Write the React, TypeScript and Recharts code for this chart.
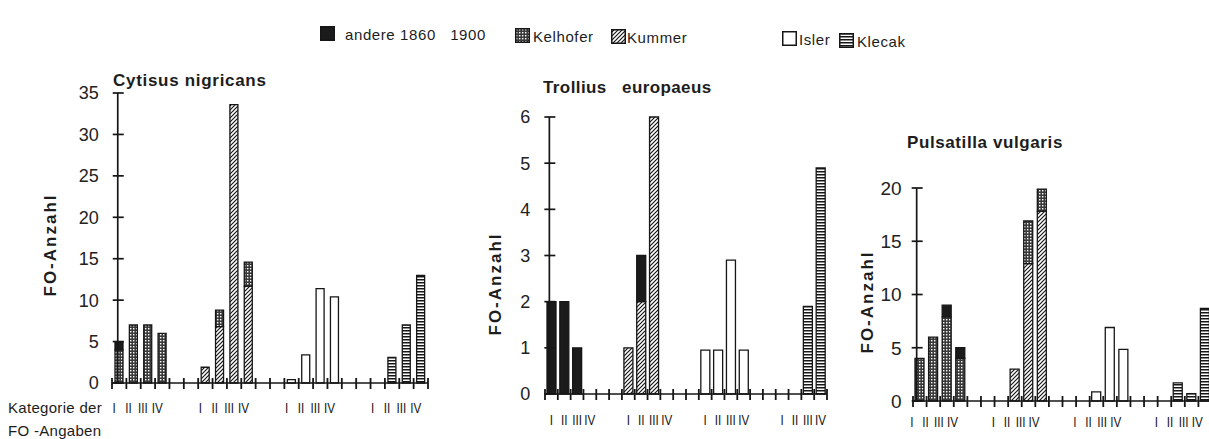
import React from 'react';
import { BarChart, Bar, XAxis, YAxis, ReferenceLine } from 'recharts';

// categories I..IV inside each author group (Kelhofer | Kummer | Isler | Klecak)
const categories = ['I', 'II', 'III', 'IV'];
const groups = ['Kelhofer', 'Kummer', 'Isler', 'Klecak'];

// Cytisus nigricans
const cytisusAndere = [1, 0, 0, 0, 0, 0, 0, 0, 0, 0, 0, 0, 0, 0, 0, 0];
const cytisusKelhofer = [4, 7, 7, 6, 0, 2, 0, 2.9, 0, 0, 0, 0, 0, 0, 0, 0];
const cytisusKummer = [0, 0, 0, 0, 1.9, 6.8, 33.6, 11.7, 0, 0, 0, 0, 0, 0, 0, 0];
const cytisusIsler = [0, 0, 0, 0, 0, 0, 0, 0, 0.4, 3.4, 11.4, 10.4, 0, 0, 0, 0];
const cytisusKlecak = [0, 0, 0, 0, 0, 0, 0, 0, 0, 0, 0, 0, 0, 3.1, 7, 13];

// Trollius europaeus
const trolliusAndere = [2, 2, 1, 0, 0, 1, 0, 0, 0, 0, 0, 0, 0, 0, 0, 0];
const trolliusKelhofer = [0, 0, 0, 0, 0, 0, 0, 0, 0, 0, 0, 0, 0, 0, 0, 0];
const trolliusKummer = [0, 0, 0, 0, 1, 2, 6, 0, 0, 0, 0, 0, 0, 0, 0, 0];
const trolliusIsler = [0, 0, 0, 0, 0, 0, 0, 0, 0.95, 0.95, 2.9, 0.95, 0, 0, 0, 0];
const trolliusKlecak = [0, 0, 0, 0, 0, 0, 0, 0, 0, 0, 0, 0, 0, 0, 1.9, 4.9];

// Pulsatilla vulgaris
const pulsatillaAndere = [0, 0, 1.1, 1, 0, 0, 0, 0, 0, 0, 0, 0, 0, 0, 0, 0];
const pulsatillaKelhofer = [4, 6, 7.9, 4, 0, 0, 4, 2.1, 0, 0, 0, 0, 0, 0, 0, 0];
const pulsatillaKummer = [0, 0, 0, 0, 0, 3, 12.9, 17.8, 0, 0, 0, 0, 0, 0, 0, 0];
const pulsatillaIsler = [0, 0, 0, 0, 0, 0, 0, 0, 0, 0.85, 6.9, 4.85, 0, 0, 0, 0];
const pulsatillaKlecak = [0, 0, 0, 0, 0, 0, 0, 0, 0, 0, 0, 0, 0, 1.7, 0.7, 8.7];

const cytisusTicks = [0, 5, 10, 15, 20, 25, 30, 35];
const trolliusTicks = [0, 1, 2, 3, 4, 5, 6];
const pulsatillaTicks = [0, 5, 10, 15, 20];

// stack order bottom -> top
const stackOrder = ['Kummer', 'Isler', 'Klecak', 'Kelhofer', 'andere'];
const fills: Record<string, string> = {
  andere: '#1b1b1b',
  Kelhofer: 'url(#pKelhoferFill)',
  Kummer: 'url(#pKummerFill)',
  Isler: '#ffffff',
  Klecak: 'url(#pKlecakFill)',
};

const SLOTS = 22; // 4 groups of 4 + 2 empty slots between groups
const slotTicks = Array.from({ length: SLOTS + 1 }, (_, i) => i);
const slotPos = (i: number) => Math.floor(i / 4) * 6 + (i % 4) + 0.5;
const romanTicks = Array.from({ length: 16 }, (_, i) => slotPos(i));

const buildRows = (s: Record<string, number[]>) =>
  Array.from({ length: 16 }, (_, i) => ({
    x: slotPos(i),
    cat: categories[i % 4],
    group: groups[Math.floor(i / 4)],
    andere: s.andere[i],
    Kelhofer: s.Kelhofer[i],
    Kummer: s.Kummer[i],
    Isler: s.Isler[i],
    Klecak: s.Klecak[i],
  }));

const font = '"Liberation Sans", Arial, Helvetica, sans-serif';
const ink = '#161616';
const TICK = 11;

const emptyTick = () => <g />;

const makeRomanTick = (dy: number, shift: number) => (props: any) => {
  const { x, y, payload } = props;
  const idx = romanTicks.indexOf(payload.value);
  return (
    <text transform={`translate(${x + shift},${y + dy}) scale(0.78,1)`} x={0} y={0}
      textAnchor="middle" dominantBaseline="central" fontSize={15} fontFamily={font} fill={ink}>
      {categories[idx % 4]}
    </text>
  );
};

const makeYTick = (axisPx: number, gap: number, size: number) => (props: any) => {
  const { x, y, payload } = props;
  const ax = x + TICK + axisPx;
  return (
    <text x={ax - gap} y={y} dy="0.36em" textAnchor="end" fontSize={size} fontFamily={font} fill="#222">
      {payload.value}
    </text>
  );
};

interface PanelProps {
  left: number;
  width: number;
  margin: { top: number; right: number; bottom: number; left: number };
  rows: any[];
  yMax: number;
  yTicks: number[];
  axisAt: number;
  labelGap: number;
  tickFont: number;
  romanDy: number;
  romanShift: number;
  barSize: number;
}

const Panel: React.FC<PanelProps> = (p) => {
  const plotW = p.width - p.margin.left - p.margin.right - 30;
  const axisPx = (p.axisAt / SLOTS) * plotW;
  return (
    <div style={{ position: 'absolute', left: p.left, top: 0 }}>
      <BarChart width={p.width} height={439} data={p.rows} margin={p.margin}>
        <XAxis xAxisId="main" type="number" dataKey="x" domain={[0, SLOTS]} ticks={slotTicks}
          interval={0} height={10} tickSize={TICK} tickMargin={0} tick={emptyTick}
          tickLine={{ stroke: ink, strokeWidth: 1.8, transform: 'translate(0,-5)' }}
          axisLine={{ stroke: ink, strokeWidth: 1.7 }} allowDataOverflow />
        <XAxis xAxisId="rom" type="number" dataKey="x" domain={[0, SLOTS]} ticks={romanTicks}
          interval={0} height={24} tickSize={0} tickMargin={0} axisLine={false} tickLine={false}
          tick={makeRomanTick(p.romanDy, p.romanShift)} allowDataOverflow />
        <YAxis type="number" domain={[0, p.yMax]} ticks={p.yTicks} interval={0} width={30}
          axisLine={false} tickSize={TICK} tickMargin={0}
          tickLine={{ stroke: ink, strokeWidth: 1.7, transform: `translate(${axisPx + 6},0)` }}
          tick={makeYTick(axisPx, p.labelGap, p.tickFont)} />
        <ReferenceLine xAxisId="main" x={p.axisAt} stroke={ink} strokeWidth={1.7} />
        {stackOrder.map((k) => (
          <Bar key={k} xAxisId="main" dataKey={k} stackId="s" fill={fills[k]} stroke={ink}
            strokeWidth={1.3} barSize={p.barSize} isAnimationActive={false} />
        ))}
      </BarChart>
    </div>
  );
};

const Icon: React.FC<{ k: string }> = ({ k }) => (
  <svg width={15} height={15} style={{ display: 'block' }}>
    <rect x={0.75} y={0.75} width={13.5} height={13.5} fill={fills[k]} stroke={ink} strokeWidth={1.5} />
  </svg>
);

const abs = (left: number, top: number, extra: React.CSSProperties = {}): React.CSSProperties => ({
  position: 'absolute', left, top, fontFamily: font, color: '#1d1d1d', whiteSpace: 'pre', lineHeight: 1, ...extra,
});

const legendItems = [
  { k: 'andere', label: 'andere 1860   1900', ix: 320, iy: 26, tx: 345, ty: 27 },
  { k: 'Kelhofer', label: 'Kelhofer', ix: 515, iy: 28, tx: 533, ty: 29 },
  { k: 'Kummer', label: 'Kummer', ix: 611, iy: 29, tx: 627, ty: 30 },
  { k: 'Isler', label: 'Isler', ix: 782, iy: 31, tx: 799, ty: 32 },
  { k: 'Klecak', label: 'Klecak', ix: 839, iy: 33, tx: 857, ty: 34 },
];

const YLabel: React.FC<{ cx: number; cy: number }> = ({ cx, cy }) => (
  <div style={abs(cx, cy, { transform: 'translate(-50%, -50%) rotate(-90deg)', fontWeight: 'bold', fontSize: 17, letterSpacing: 2 })}>
    FO-Anzahl
  </div>
);

export default function App() {
  const cytisus = buildRows({ andere: cytisusAndere, Kelhofer: cytisusKelhofer, Kummer: cytisusKummer, Isler: cytisusIsler, Klecak: cytisusKlecak });
  const trollius = buildRows({ andere: trolliusAndere, Kelhofer: trolliusKelhofer, Kummer: trolliusKummer, Isler: trolliusIsler, Klecak: trolliusKlecak });
  const pulsatilla = buildRows({ andere: pulsatillaAndere, Kelhofer: pulsatillaKelhofer, Kummer: pulsatillaKummer, Isler: pulsatillaIsler, Klecak: pulsatillaKlecak });

  return (
    <div style={{ position: 'absolute', left: 0, top: 0, width: 1209, height: 439, overflow: 'hidden', background: '#fff' }}>
      <svg width={0} height={0} style={{ position: 'absolute' }}>
        <defs>
          <pattern id="pKelhoferFill" patternUnits="userSpaceOnUse" width={3} height={3}>
            <rect width={3} height={3} fill="#3a3a3a" />
            <rect x={1} y={1} width={1.4} height={1.4} fill="#fff" />
          </pattern>
          <pattern id="pKummerFill" patternUnits="userSpaceOnUse" width={4} height={4}>
            <rect width={4} height={4} fill="#fff" />
            <path d="M-1,1 L1,-1 M0,4 L4,0 M3,5 L5,3" stroke={ink} strokeWidth={1.2} />
          </pattern>
          <pattern id="pKlecakFill" patternUnits="userSpaceOnUse" width={4} height={3}>
            <rect width={4} height={3} fill="#fff" />
            <rect width={4} height={1.5} fill={ink} />
          </pattern>
        </defs>
      </svg>

      {legendItems.map((it) => (
        <React.Fragment key={it.k}>
          <div style={abs(it.ix, it.iy)}><Icon k={it.k} /></div>
          <div style={abs(it.tx, it.ty, { fontSize: 15, letterSpacing: 0.6 })}>{it.label}</div>
        </React.Fragment>
      ))}

      <Panel left={0} width={433} margin={{ top: 93, right: 5, bottom: 22, left: 82 }} rows={cytisus}
        yMax={35} yTicks={cytisusTicks} axisAt={0.4} labelGap={19} tickFont={18} romanDy={15} romanShift={-5} barSize={8} />
      <Panel left={440} width={392} margin={{ top: 117, right: 5, bottom: 11, left: 75 }} rows={trollius}
        yMax={6} yTicks={trolliusTicks} axisAt={0.34} labelGap={19} tickFont={18} romanDy={16} romanShift={0} barSize={9} />
      <Panel left={840} width={377} margin={{ top: 188, right: 5, bottom: 4, left: 43 }} rows={pulsatilla}
        yMax={20} yTicks={pulsatillaTicks} axisAt={0.27} labelGap={15} tickFont={19} romanDy={11} romanShift={-8} barSize={9} />

      <div style={abs(113, 72, { fontWeight: 'bold', fontSize: 17, letterSpacing: 0.7 })}>Cytisus nigricans</div>
      <div style={abs(543, 79, { fontWeight: 'bold', fontSize: 17, letterSpacing: 0.4 })}>{'Trollius   europaeus'}</div>
      <div style={abs(907, 134, { fontWeight: 'bold', fontSize: 17, letterSpacing: 0.6 })}>Pulsatilla vulgaris</div>

      <YLabel cx={50} cy={245} />
      <YLabel cx={495} cy={284} />
      <YLabel cx={867} cy={302} />

      <div style={abs(8, 400, { fontSize: 15, letterSpacing: 0.3 })}>Kategorie der</div>
      <div style={abs(8, 423, { fontSize: 15, letterSpacing: 0.3 })}>FO -Angaben</div>
    </div>
  );
}
